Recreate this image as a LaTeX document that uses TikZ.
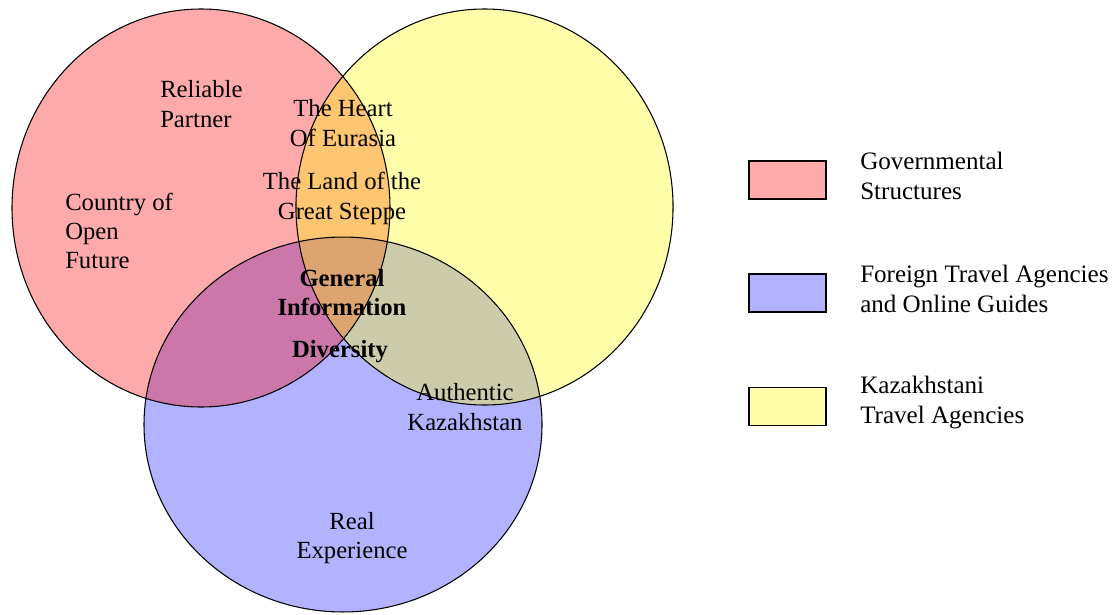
\documentclass[tikz,border=0pt]{standalone}
\usepackage{fontspec}
\setmainfont{Liberation Serif}
\definecolor{cred}{RGB}{255,0,0}
\definecolor{cyel}{RGB}{255,255,0}
\definecolor{cblu}{RGB}{0,0,255}
\definecolor{lred}{RGB}{255,170,170}
\definecolor{lyel}{RGB}{255,255,170}
\definecolor{lblu}{RGB}{178,178,255}
\begin{document}
\begin{tikzpicture}[x=0.75pt,y=-0.75pt,
  lbl/.style={font=\fontsize{18.5}{22}\selectfont, inner sep=0pt, align=center},
  lgd/.style={font=\fontsize{18.8}{22}\selectfont, inner sep=0pt, align=left, anchor=west},
  keybox/.style={draw=black, line width=1.1pt, minimum width=57.75pt, minimum height=28.5pt, inner sep=0pt},
  ring/.style={draw=black, line width=0.8pt}]
\useasboundingbox (0,0) rectangle (1117,614);
% fills (blue first, then red, then yellow)
\fill[cblu, fill opacity=0.3] (343,424.5) ellipse [x radius=149.25pt, y radius=140.6pt];
\fill[cred, fill opacity=0.333] (201,208) ellipse [x radius=141.75pt, y radius=149.25pt];
\fill[cyel, fill opacity=0.333] (484.5,207) ellipse [x radius=141.4pt, y radius=148.5pt];
% outlines
\draw[ring] (343,424.5) ellipse [x radius=149.25pt, y radius=140.6pt];
\draw[ring] (201,208) ellipse [x radius=141.75pt, y radius=149.25pt];
\draw[ring] (484.5,207) ellipse [x radius=141.4pt, y radius=148.5pt];
% labels
\node[lbl, align=left, anchor=west] (reliable) at (160,104) {Reliable\\Partner};
\node[lbl, align=left, anchor=west] (country) at (65,231) {Country of\\Open\\Future};
\node[lbl] (heart) at (343,123) {The Heart\\Of Eurasia};
\node[lbl] (land) at (342,198.5) {The Land of the\\Great Steppe};
\node[lbl, font=\fontsize{18.5}{22}\selectfont\bfseries] (general) at (342,292.5) {General\\Information};
\node[lbl, font=\fontsize{18.5}{22}\selectfont\bfseries] (diversity) at (340,352) {Diversity};
\node[lbl] (authentic) at (465,407) {Authentic\\Kazakhstan};
\node[lbl] (real) at (352,538) {Real\\Experience};
% legend
\node[keybox, fill=lred] (kred) at (787.5,180) {};
\node[keybox, fill=lblu] (kblu) at (787.5,293) {};
\node[keybox, fill=lyel] (kyel) at (787.5,406.5) {};
\node[lgd] (tred) at (860,176) {Governmental\\Structures};
\node[lgd] (tblu) at (860,289) {Foreign Travel Agencies\\and Online Guides};
\node[lgd] (tyel) at (860,402.5) {Kazakhstani\\Travel Agencies};
\end{tikzpicture}
\end{document}
